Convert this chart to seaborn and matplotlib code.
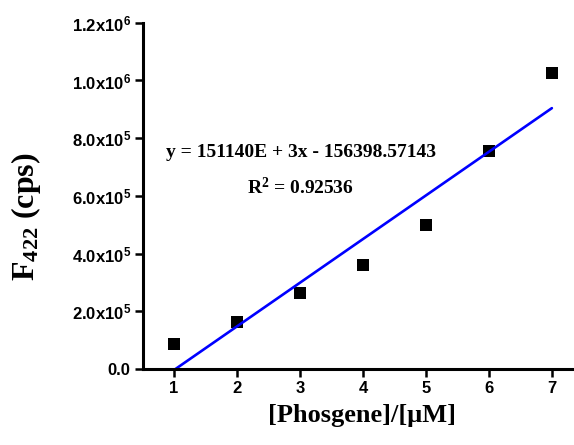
import matplotlib
matplotlib.use("Agg")
import matplotlib.pyplot as plt
import numpy as np
import seaborn as sns

# phosgene concentration (uM) and emission intensity at 422 nm (cps)
conc = [1, 2, 3, 4, 5, 6, 7]
f422 = [87000, 163000, 262000, 360000, 500000, 755000, 1025000]

ytick_values = [0, 2e5, 4e5, 6e5, 8e5, 1.0e6, 1.2e6]
ytick_labels = ["0.0", "2.0x10$\\mathregular{^5}$", "4.0x10$\\mathregular{^5}$",
                "6.0x10$\\mathregular{^5}$", "8.0x10$\\mathregular{^5}$",
                "1.0x10$\\mathregular{^6}$", "1.2x10$\\mathregular{^6}$"]
xtick_values = [1, 2, 3, 4, 5, 6, 7]

fit_text = "y = 151140E + 3x - 156398.57143"
r2_text = "R$\\mathregular{^2}$ = 0.92536"

sns.set_style("ticks")
plt.rcParams["font.family"] = ["Liberation Sans", "DejaVu Sans"]
plt.rcParams["text.color"] = "black"
plt.rcParams["axes.labelcolor"] = "black"
plt.rcParams["xtick.color"] = "black"
plt.rcParams["ytick.color"] = "black"

fig = plt.figure(figsize=(5.74, 4.45), dpi=100)
ax = fig.add_axes([0.2483, 0.1708, 0.768, 0.778])

sns.regplot(
    x=conc,
    y=f422,
    ax=ax,
    ci=None,
    marker="s",
    scatter_kws={"s": 64, "color": "black", "alpha": 1, "linewidths": 0},
    line_kws={"color": "#0000ff", "lw": 1.9},
)

ax.set_xlim(0.5, 7.5)
ax.set_ylim(0, 1.2e6)
ax.set_xticks(xtick_values)
ax.set_yticks(ytick_values)
ax.set_yticklabels(ytick_labels)

for lab in ax.get_xticklabels() + ax.get_yticklabels():
    lab.set_fontfamily("Liberation Sans")
    lab.set_fontweight("bold")
    lab.set_fontsize(12)
    lab.set_color("black")

ax.tick_params(direction="out", length=5.5, width=1.8, color="black", pad=3)
sns.despine(ax=ax)
for side in ["left", "bottom"]:
    ax.spines[side].set_linewidth(2.2)
    ax.spines[side].set_color("black")

ax.set_xlabel("[Phosgene]/[\u03bcM]", fontfamily="Liberation Serif",
              fontweight="bold", fontsize=19, color="black")
ax.xaxis.set_label_coords(0.498, -0.1)
ax.set_ylabel("F$\\mathregular{_{422}}$ (cps)", fontfamily="Liberation Serif",
              fontweight="bold", fontsize=23, color="black")
ax.yaxis.set_label_coords(-0.226, 0.44)

ax.text(3.02, 751000, fit_text, ha="center", va="center", color="black",
        fontfamily="Liberation Serif", fontweight="bold", fontsize=14)
ax.text(3.0, 630000, r2_text, ha="center", va="center", color="black",
        fontfamily="Liberation Serif", fontweight="bold", fontsize=14)

fig.savefig("out.png", dpi=100, facecolor="white")
